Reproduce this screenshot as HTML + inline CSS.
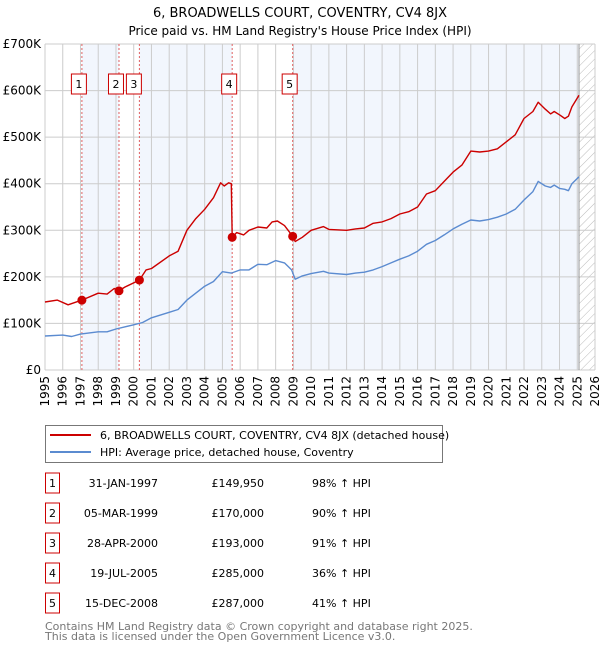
<!DOCTYPE html>
<html><head><meta charset="utf-8"><style>
body{margin:0;background:#fff;}
svg{display:block;font-family:"DejaVu Sans","Liberation Sans",sans-serif;}
</style></head><body>
<svg id="chart" width="600" height="650" viewBox="0 0 600 650">
<text x="300" y="17" text-anchor="middle" font-size="13" fill="#000">6, BROADWELLS COURT, COVENTRY, CV4 8JX</text>
<text x="300" y="35" text-anchor="middle" font-size="12" fill="#000">Price paid vs. HM Land Registry's House Price Index (HPI)</text>
<defs><pattern id="hatch" width="6" height="6" patternUnits="userSpaceOnUse" patternTransform="rotate(45)"><line x1="0" y1="0" x2="0" y2="6" stroke="#bbb" stroke-width="1"/></pattern></defs>
<g id="bands"></g>
<g id="grid"></g>
<g id="series"></g>
<g id="markers"></g>
<g id="axes"></g>

<g>
<rect x="45.5" y="425.5" width="397" height="37" fill="#fff" stroke="#777"/>
<line x1="50" y1="435" x2="91" y2="435" stroke="#cc0000" stroke-width="2"/>
<text x="100" y="439" font-size="11">6, BROADWELLS COURT, COVENTRY, CV4 8JX (detached house)</text>
<line x1="50" y1="452" x2="91" y2="452" stroke="#5b8bd0" stroke-width="2"/>
<text x="100" y="456" font-size="11">HPI: Average price, detached house, Coventry</text>
</g>
<g id="table"></g>
<text x="45" y="630" font-size="11" fill="#777">Contains HM Land Registry data © Crown copyright and database right 2025.</text>
<text x="45" y="640" font-size="11" fill="#777">This data is licensed under the Open Government Licence v3.0.</text>
</svg>
<script>
const hpiYears=[1995,1996,1996.5,1997,1998,1998.5,1999,2000,2000.5,2001,2002,2002.5,2003,2004,2004.5,2005,2005.5,2006,2006.5,2007,2007.5,2008,2008.5,2008.9,2009.1,2009.5,2010,2010.7,2011,2012,2012.5,2013,2013.5,2014,2014.5,2015,2015.5,2016,2016.5,2017,2017.5,2018,2018.5,2019,2019.5,2020,2020.5,2021,2021.5,2022,2022.5,2022.8,2023.2,2023.5,2023.7,2024,2024.3,2024.5,2024.7,2025.1];
const hpiValues=[73,75,72,77,82,82,88,97,102,112,124,130,150,180,190,211,208,215,215,227,226,235,230,215,195,202,207,212,208,205,208,210,215,222,230,238,245,255,270,278,290,303,313,322,320,323,328,335,345,365,383,405,395,392,397,390,388,385,400,415];
const propYears=[1995,1995.7,1996.3,1997.08,1998,1998.5,1998.9,1999.17,1999.5,2000.32,2000.7,2001,2002,2002.5,2003,2003.5,2004,2004.5,2004.9,2005.1,2005.35,2005.5,2005.55,2005.8,2006.2,2006.5,2007,2007.5,2007.8,2008.1,2008.5,2008.96,2009.1,2009.5,2010,2010.7,2011,2012,2012.5,2013,2013.5,2014,2014.5,2015,2015.5,2016,2016.5,2017,2017.5,2018,2018.5,2019,2019.5,2020,2020.5,2021,2021.5,2022,2022.5,2022.8,2023.2,2023.5,2023.7,2024,2024.3,2024.5,2024.7,2025.1];
const propValues=[146,150,140,150,165,163,175,170,178,193,215,218,245,255,300,325,345,370,402,395,402,400,285,295,290,300,307,305,318,320,310,287,276,285,300,308,302,300,303,305,315,318,325,335,340,350,378,385,405,425,440,470,468,470,475,490,505,540,555,575,560,550,555,548,540,545,565,590];
const saleLabels=["1","2","3","4","5"];
const saleYears=[1997.08,1999.17,2000.32,2005.55,2008.96];
const saleValues=[149950,170000,193000,285000,287000];
const saleDates=["31-JAN-1997","05-MAR-1999","28-APR-2000","19-JUL-2005","15-DEC-2008"];
const salePrices=["£149,950","£170,000","£193,000","£285,000","£287,000"];
const saleHpi=["98% ↑ HPI","90% ↑ HPI","91% ↑ HPI","36% ↑ HPI","41% ↑ HPI"];
const yTicks=[0,100,200,300,400,500,600,700];
const yTickLabels=["£0","£100K","£200K","£300K","£400K","£500K","£600K","£700K"];
const xTicks=[1995,1996,1997,1998,1999,2000,2001,2002,2003,2004,2005,2006,2007,2008,2009,2010,2011,2012,2013,2014,2015,2016,2017,2018,2019,2020,2021,2022,2023,2024,2025,2026];
const dataEnd=2025.1;

const NS="http://www.w3.org/2000/svg";
const X0=45,X1=595,Y0=370,Y1=44;
const xs=y=>X0+(y-1995)/(2026-1995)*(X1-X0);
const ys=v=>Y0-v/700*(Y0-Y1);
function mk(tag,attrs,parent){const e=document.createElementNS(NS,tag);for(const k in attrs)e.setAttribute(k,attrs[k]);parent.appendChild(e);return e;}
const bands=document.getElementById('bands'),grid=document.getElementById('grid'),series=document.getElementById('series'),markers=document.getElementById('markers'),axes=document.getElementById('axes'),table=document.getElementById('table');

const bandStarts=[saleYears[0],saleYears[2],saleYears[4]];
const bandEnds=[saleYears[1],saleYears[3],dataEnd];
for(let i=0;i<bandStarts.length;i++){
  const r=mk('rect',{x:xs(bandStarts[i]),y:Y1,width:xs(bandEnds[i])-xs(bandStarts[i]),height:Y0-Y1,fill:'#eef3fc',opacity:0.75},bands);
  
  
}
const h=mk('rect',{x:xs(dataEnd),y:Y1,width:X1-xs(dataEnd),height:Y0-Y1,fill:'url(#hatch)'},bands);



xTicks.forEach(t=>{
  const l=mk('line',{x1:xs(t),x2:xs(t),y1:Y1,y2:Y0,stroke:'#cccccc','stroke-width':1},grid);
  
  
  const tx=mk('text',{x:0,y:0,'font-size':12,'text-anchor':'end',transform:`translate(${xs(t)+4},${Y0+6}) rotate(-90)`},axes);
  tx.textContent=t;
  
  
});
yTicks.forEach((t,i)=>{
  const l=mk('line',{x1:X0,x2:X1,y1:ys(t),y2:ys(t),stroke:'#cccccc','stroke-width':1},grid);
  
  
  const tx=mk('text',{x:X0-4,y:ys(t)+4,'font-size':12,'text-anchor':'end'},axes);
  tx.textContent=yTickLabels[i];
  
  
});
const ax=mk('line',{x1:xs(dataEnd),x2:xs(dataEnd),y1:Y1,y2:Y0,stroke:'#999','stroke-width':1},grid);



saleYears.forEach((y,i)=>{
  const l=mk('line',{x1:xs(y),x2:xs(y),y1:Y1,y2:Y0,stroke:'#e06060','stroke-width':1,'stroke-dasharray':'2,2'},grid);
  
  
  const g=mk('g',{},axes);
  
  
  const cx=xs(y)-(i===2?5.5:3);
  mk('rect',{x:cx-7.5,y:74,width:15,height:20,fill:'#fff',stroke:'#cc0000'},g);
  const t=mk('text',{x:cx,y:88,'font-size':11,'text-anchor':'middle'},g);
  t.textContent=saleLabels[i];
});

function path(xa,va,color,name){
  const d=xa.map((x,i)=>(i?'L':'M')+xs(x).toFixed(1)+','+ys(va[i]).toFixed(1)).join(' ');
  const p=mk('path',{d,fill:'none',stroke:color,'stroke-width':1.4,'stroke-linejoin':'round'},series);
  
  
}
path(hpiYears,hpiValues,'#5b8bd0','hpi-line');
path(propYears,propValues,'#cc0000','property-line');
saleYears.forEach((y,i)=>{
  const c=mk('circle',{cx:xs(y),cy:ys(saleValues[i]/1000),r:4.5,fill:'#cc0000'},markers);
  
  
});

saleLabels.forEach((lab,i)=>{
  const cy=483+i*30;
  const g=mk('g',{},table);
  
  
  mk('rect',{x:45.5,y:cy-10,width:14,height:20,fill:'#fff',stroke:'#cc0000'},g);
  const a=mk('text',{x:52.5,y:cy+4,'font-size':11,'text-anchor':'middle'},g);a.textContent=lab;
  const b=mk('text',{x:158,y:cy+4,'font-size':11,'text-anchor':'end'},g);b.textContent=saleDates[i];
  const c=mk('text',{x:264,y:cy+4,'font-size':11,'text-anchor':'end'},g);c.textContent=salePrices[i];
  const d=mk('text',{x:312,y:cy+4,'font-size':11},g);d.textContent=saleHpi[i];
});
</script>
</body></html>
